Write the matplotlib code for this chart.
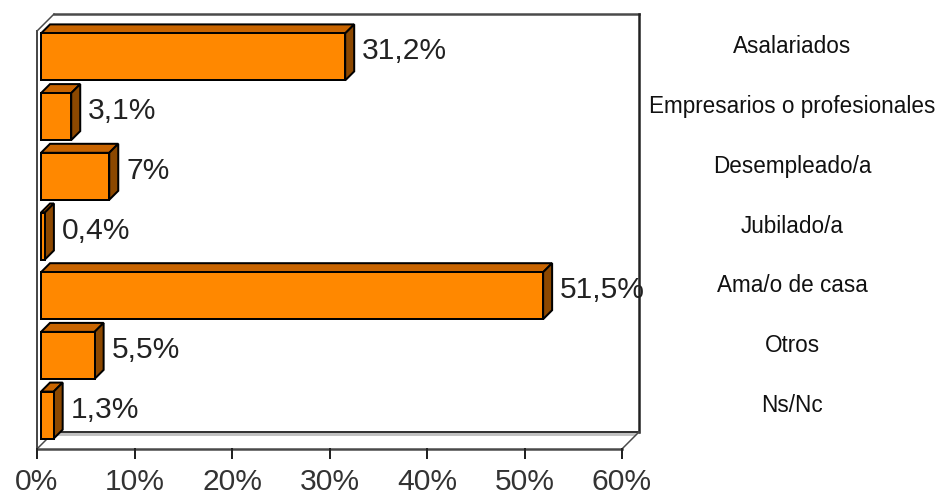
import matplotlib.pyplot as plt
from matplotlib.patches import Polygon
import matplotlib.transforms as mtransforms

categories = ["Asalariados", "Empresarios o profesionales", "Desempleado/a",
              "Jubilado/a", "Ama/o de casa", "Otros", "Ns/Nc"]
values = [31.2, 3.1, 7, 0.4, 51.5, 5.5, 1.3]
value_labels = ["31,2%", "3,1%", "7%", "0,4%", "51,5%", "5,5%", "1,3%"]
x_ticks = [0, 10, 20, 30, 40, 50, 60]
x_tick_labels = ["0%", "10%", "20%", "30%", "40%", "50%", "60%"]

W, H = 938, 495
plt.rcParams['font.family'] = ['Liberation Sans', 'DejaVu Sans']
fig = plt.figure(figsize=(W / 72, H / 72), dpi=72)
ax = fig.add_axes([0, 0, 1, 1])
ax.axis('off')

# front plane: 0% at px 37, 60% at px 622; category slots of 59.7 px
x0, xs = 37, 585 / 60
y0, ys = 60.9, 59.7
ax.set_xlim(-x0 / xs, (W - x0) / xs)
ax.set_ylim((H - y0) / ys, -y0 / ys)


def pt(x, y, dx=0, dy=0):
    # data point shifted dx px right and dy px up (depth of the 3D look)
    return (x + dx / xs, y - dy / ys)


n = len(categories)
top, bot = -0.5, n - 0.5
xmax = x_ticks[-1]
D = 17  # wall depth in px

# floor shading
ax.add_patch(Polygon([pt(0, bot, D, D), pt(xmax, bot, D, D),
                      pt(xmax, bot, D - 4, D - 4), pt(0, bot, D - 4, D - 4)],
                     closed=True, fc='#c0c0c0', ec='none', zorder=1))

frame = '#4a4a4a'
ax.plot(*zip(pt(0, top, D, D), pt(xmax, top, D, D)), color=frame, lw=2.5, zorder=2)
ax.plot(*zip(pt(xmax, top, D, D), pt(xmax, bot, D, D)), color='#222222', lw=2.5, zorder=2)
ax.plot(*zip(pt(0, bot, D, D), pt(xmax, bot, D, D)), color='#333333', lw=2, zorder=2)
ax.plot(*zip(pt(0, bot), pt(xmax, bot)), color=frame, lw=2.5, zorder=2)
ax.plot(*zip(pt(xmax, bot), pt(xmax, bot, D, D)), color=frame, lw=1.5, zorder=2)
ax.plot(*zip(pt(0, bot), pt(0, bot, D, D)), color=frame, lw=1.5, zorder=2)
ax.plot(*zip(pt(0, top), pt(0, bot)), color=frame, lw=2, zorder=2)
ax.plot(*zip(pt(0, top), pt(0, top, D, D)), color=frame, lw=1.5, zorder=2)

for t, lbl in zip(x_ticks, x_tick_labels):
    ax.plot(*zip(pt(t, bot), pt(t, bot, 0, -9)), color='#222222', lw=2, zorder=2)
    ax.annotate(lbl, xy=(t, bot), xytext=(0, -33), textcoords='offset points',
                ha='center', va='center', fontsize=30, color='#333333')

# bars
off, BD, half = 4, 9, 23.5
for k, (v, lbl) in enumerate(zip(values, value_labels)):
    front = [pt(0, k, off, off + half), pt(v, k, off, off + half),
             pt(v, k, off, off - half), pt(0, k, off, off - half)]
    topf = [pt(0, k, off, off + half), pt(v, k, off, off + half),
            pt(v, k, off + BD, off + BD + half), pt(0, k, off + BD, off + BD + half)]
    side = [pt(v, k, off, off + half), pt(v, k, off + BD, off + BD + half),
            pt(v, k, off + BD, off + BD - half), pt(v, k, off, off - half)]
    for poly, c in [(topf, '#c86400'), (side, '#8c4800'), (front, '#ff8800')]:
        ax.add_patch(Polygon(poly, closed=True, fc=c, ec='black', lw=2,
                             joinstyle='miter', zorder=3))
    ax.annotate(lbl, xy=(v, k), xytext=(21, 9.5), textcoords='offset points',
                ha='left', va='center', fontsize=30, color='#222222', zorder=4)

# category names on the right
trans = mtransforms.blended_transform_factory(ax.transAxes, ax.transData)
for k, name in enumerate(categories):
    ax.annotate(name, xy=(792 / W, k), xycoords=trans, xytext=(0, 14),
                textcoords='offset points', ha='center', va='center',
                fontsize=22.5, color='#111111')

fig.savefig('out.png', dpi=72)
